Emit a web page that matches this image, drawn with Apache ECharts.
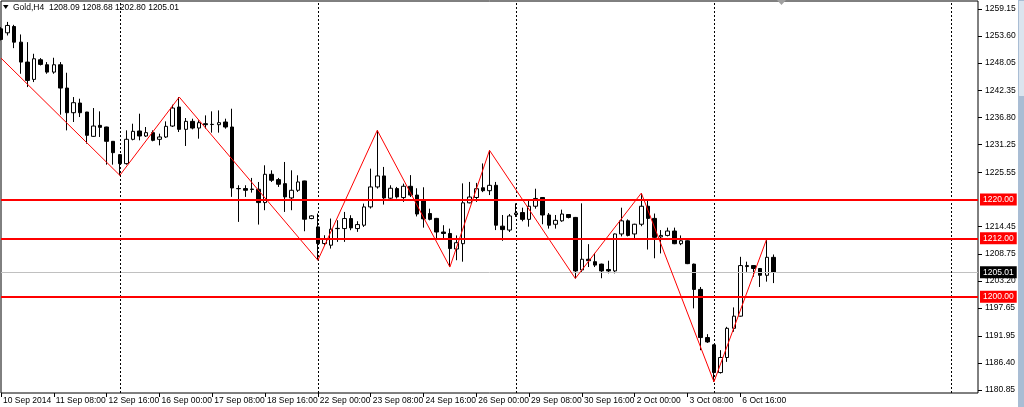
<!DOCTYPE html>
<html>
<head>
<meta charset="utf-8">
<script src="https://cdn.jsdelivr.net/npm/echarts@6/dist/echarts.min.js"></script>
<style>
html,body{margin:0;padding:0;background:#fff;}
#chart{width:1024px;height:407px;}
</style>
</head>
<body>
<div id="chart"></div>
<script>
// ---- data (H4 candles, Gold, 10 Sep 2014 00:00 -> 7 Oct 2014 12:00) ----
const symbolName = 'Gold,H4';
const tickLabels = ['10 Sep 2014','11 Sep 08:00','12 Sep 16:00','16 Sep 00:00','17 Sep 08:00','18 Sep 16:00','22 Sep 00:00','23 Sep 08:00','24 Sep 16:00','26 Sep 00:00','29 Sep 08:00','30 Sep 16:00','2 Oct 00:00','3 Oct 08:00','6 Oct 16:00'];
const priceTicks = [1259.15,1253.60,1248.05,1242.35,1236.80,1231.25,1225.55,1214.45,1208.75,1203.20,1197.65,1191.95,1186.40,1180.85];

const open = [1255.08,1254.26,1255.56,1252.34,1248.24,1244.68,1248.72,1247.69,1246.18,1247.69,
1242.90,1237.83,1239.82,1237.97,1232.97,1235.23,1234.89,1231.95,1229.21,1227.36,
1232.36,1234.07,1233.04,1233.73,1232.36,1232.84,1235.09,1239.00,1234.41,1236.05,
1234.68,1235.57,1235.44,1235.37,1235.92,1234.89,1222.25,1222.23,1222.12,1222.09,
1219.35,1225.17,1224.07,1223.25,1220.31,1221.88,1223.80,1216.07,1214.35,1210.93,
1210.59,1214.05,1214.01,1216.07,1214.01,1214.70,1218.46,1222.57,1224.83,1220.25,
1222.23,1220.38,1222.70,1220.90,1219.80,1217.10,1216.10,1213.30,1213.00,1209.80,
1210.90,1219.30,1220.40,1222.40,1221.80,1222.90,1214.50,1213.70,1216.90,1217.30,
1215.90,1218.60,1220.40,1216.80,1214.90,1215.60,1216.90,1216.30,1205.50,1207.70,
1207.20,1206.70,1205.60,1205.30,1212.90,1215.60,1212.90,1214.90,1218.60,1216.10,
1212.30,1212.60,1213.50,1210.90,1211.50,1206.70,1201.50,1191.60,1190.10,1184.40,
1187.50,1193.50,1196.00,1206.20,1206.40,1205.80,1204.40,1208.09];
const high = [1255.42,1256.50,1255.90,1253.92,1252.34,1249.95,1249.06,1248.24,1249.13,1248.24,
1246.05,1241.05,1240.71,1238.00,1238.79,1238.11,1234.95,1232.00,1229.30,1234.20,
1235.57,1237.63,1234.89,1234.20,1233.52,1236.05,1239.48,1241.05,1236.74,1236.60,
1236.26,1237.28,1238.11,1238.31,1236.60,1238.65,1222.91,1222.91,1224.42,1223.59,
1227.02,1225.99,1224.42,1227.70,1225.99,1224.96,1223.85,1216.75,1217.09,1212.64,
1216.07,1215.72,1217.43,1216.75,1215.52,1219.15,1226.33,1234.20,1226.68,1222.91,
1222.57,1223.25,1225.00,1222.30,1222.50,1218.10,1216.20,1214.70,1214.00,1212.60,
1223.30,1223.60,1223.40,1227.40,1230.10,1223.60,1216.80,1217.00,1219.20,1218.30,
1219.80,1222.20,1220.50,1217.20,1216.80,1217.90,1217.00,1216.40,1219.20,1210.80,
1209.00,1206.80,1207.40,1213.00,1218.30,1215.90,1215.00,1221.30,1219.80,1217.10,
1213.70,1214.20,1214.20,1212.60,1211.60,1206.80,1202.00,1192.30,1190.20,1189.00,
1193.80,1197.80,1208.20,1207.20,1206.50,1205.90,1211.90,1208.68];
const low = [1252.69,1253.71,1251.11,1245.84,1243.10,1244.13,1247.55,1245.84,1245.84,1237.42,
1234.20,1235.92,1236.94,1231.47,1232.84,1232.84,1227.15,1227.15,1224.96,1227.15,
1232.15,1232.15,1232.84,1231.95,1231.12,1232.63,1234.89,1233.86,1230.99,1234.41,
1232.49,1234.55,1233.73,1233.73,1234.55,1220.52,1215.38,1220.52,1221.40,1214.83,
1217.78,1223.59,1222.57,1217.43,1217.78,1221.54,1213.46,1215.93,1207.51,1210.59,
1209.90,1211.27,1211.27,1213.67,1213.33,1214.35,1218.12,1222.23,1218.94,1219.83,
1220.18,1219.49,1220.50,1216.50,1214.20,1215.70,1212.00,1212.00,1206.10,1207.50,
1207.20,1219.20,1219.50,1221.50,1220.90,1213.70,1211.50,1213.30,1216.40,1215.50,
1214.40,1218.10,1214.90,1214.00,1214.00,1215.40,1216.10,1203.75,1205.10,1206.10,
1206.10,1203.80,1204.80,1204.80,1212.40,1212.40,1212.00,1214.50,1209.70,1207.90,
1208.90,1212.40,1210.80,1210.60,1206.70,1197.60,1189.00,1190.50,1182.50,1184.20,
1186.60,1192.80,1195.90,1205.10,1204.10,1202.00,1203.10,1202.80];
const close = [1252.89,1255.77,1252.34,1248.24,1244.47,1248.92,1247.76,1246.18,1247.69,1242.90,
1237.83,1239.89,1237.83,1233.18,1235.09,1234.82,1231.95,1229.62,1227.36,1232.36,
1234.00,1233.04,1233.73,1232.15,1232.84,1235.03,1238.79,1234.41,1236.05,1234.68,
1235.78,1235.37,1235.40,1235.78,1234.89,1222.36,1222.20,1221.88,1222.06,1219.35,
1225.17,1223.94,1223.12,1220.52,1221.88,1223.59,1215.93,1216.61,1210.93,1211.96,
1213.88,1214.00,1216.07,1214.15,1214.83,1218.46,1222.57,1224.83,1220.31,1222.30,
1220.52,1222.71,1220.90,1217.00,1216.00,1215.90,1213.30,1213.00,1209.90,1211.10,
1219.30,1220.50,1222.20,1221.80,1222.90,1214.70,1213.80,1216.60,1217.20,1215.90,
1218.60,1220.20,1216.80,1214.70,1215.70,1217.00,1216.30,1205.30,1207.70,1207.40,
1206.50,1205.30,1205.30,1212.90,1215.60,1212.60,1214.90,1218.60,1216.10,1212.20,
1212.60,1213.50,1210.90,1211.50,1206.80,1201.50,1191.60,1190.70,1184.40,1187.50,
1193.50,1196.00,1206.40,1206.40,1205.80,1204.40,1208.10,1205.01];

// ZigZag pivots: bar index and price
const zigzagBars = [0, 18, 27, 48, 57, 68, 74, 87, 97, 108, 116];
const zigzagPrices = [1249.06, 1224.96, 1241.05, 1207.51, 1234.20, 1206.10, 1230.10, 1203.75, 1221.30, 1182.50, 1211.90];
const levels = [1220.00, 1212.00, 1200.00];
const separators = [18, 48, 78, 108, 144];
const futureSlots = 31;

// ---- build ----
const nBars = open.length;
const totalSlots = nBars + futureSlots;
const categories = Array.from({length: totalSlots}, (_, i) => String(i));
const candles = open.map((o, i) => [o, close[i], low[i], high[i]]);
const last = nBars - 1;
const bid = close[last];
const FONT = 'Liberation Sans';

const zigzagSegments = [];
for (let k = 0; k < zigzagBars.length - 1; k++) {
  zigzagSegments.push([
    {coord: [String(zigzagBars[k]), zigzagPrices[k]], lineStyle: {color: '#ff0000', width: 1, type: 'solid'}, label: {show: false}},
    {coord: [String(zigzagBars[k + 1]), zigzagPrices[k + 1]]}
  ]);
}

const showTick = (i) => i % 8 === 0 && (i / 8) < tickLabels.length;
const levelLabel = (txt, bg) => ({show: true, position: 'end', distance: 2, formatter: txt, backgroundColor: bg, color: '#fff', padding: [2, 3, 1, 3], fontFamily: FONT, fontSize: 8.5});

const chart = echarts.init(document.getElementById('chart'), null, {renderer: 'canvas'});
chart.setOption({
  animation: false,
  backgroundColor: '#ffffff',
  grid: {left: 1, top: 1, right: 46, bottom: 14, show: true, borderColor: '#000', borderWidth: 1, backgroundColor: 'transparent'},
  xAxis: {
    type: 'category', data: categories, boundaryGap: false,
    axisLine: {show: false},
    axisTick: {show: true, interval: (i) => showTick(i), length: 4, lineStyle: {color: '#000'}},
    axisLabel: {
      interval: (i) => showTick(i),
      formatter: (v, i) => tickLabels[i / 8] || '',
      align: 'left', margin: 3, padding: [0, 0, 0, 2],
      fontFamily: FONT, fontSize: 8.5, color: '#000'
    },
    splitLine: {show: false}
  },
  yAxis: {
    type: 'value', position: 'right', min: 1180.2, max: 1260.8, scale: true,
    axisLine: {show: false},
    axisTick: {show: true, customValues: priceTicks, length: 4, lineStyle: {color: '#000'}},
    axisLabel: {customValues: priceTicks, formatter: (v) => v.toFixed(2), margin: 7, fontFamily: FONT, fontSize: 8.5, color: '#000'},
    splitLine: {show: false}
  },
  series: [
    {
      type: 'candlestick', data: candles, barWidth: 4, z: 2,
      itemStyle: {color: '#ffffff', color0: '#000000', borderColor: '#000000', borderColor0: '#000000', borderWidth: 1},
      markLine: {
        silent: true, symbol: 'none', animation: false,
        data: [
          {yAxis: bid, lineStyle: {color: '#c0c0c0', width: 1, type: 'solid'}, label: levelLabel(bid.toFixed(2), '#000')},
          ...separators.map(s => ({xAxis: String(s), lineStyle: {color: '#000', width: 1, type: [2, 2]}, label: {show: false}})),
          ...levels.map(l => ({yAxis: l, lineStyle: {color: '#ff0000', width: 2, type: 'solid'}, label: levelLabel(l.toFixed(2), '#ff0000')})),
          ...zigzagSegments
        ]
      }
    }
  ],
  graphic: [
    {type: 'polygon', shape: {points: [[3, 5], [8.5, 5], [5.75, 9]]}, style: {fill: '#000'}},
    {type: 'text', left: 13, top: 3, style: {text: symbolName + '  ' + [open[last], high[last], low[last], close[last]].map(v => v.toFixed(2)).join(' '), fill: '#000', font: '8.5px "' + FONT + '"'}},
    {type: 'polygon', shape: {points: [[777, 0], [786, 0], [781.5, 5]]}, style: {fill: '#a0a0a0'}},
    {type: 'rect', shape: {x: 1018, y: 0, width: 6, height: 407}, style: {fill: '#a9bdd4'}},
    {type: 'rect', shape: {x: 1019, y: 1, width: 5, height: 95}, style: {fill: '#dbe4ee'}}
  ]
});
</script>
</body>
</html>
